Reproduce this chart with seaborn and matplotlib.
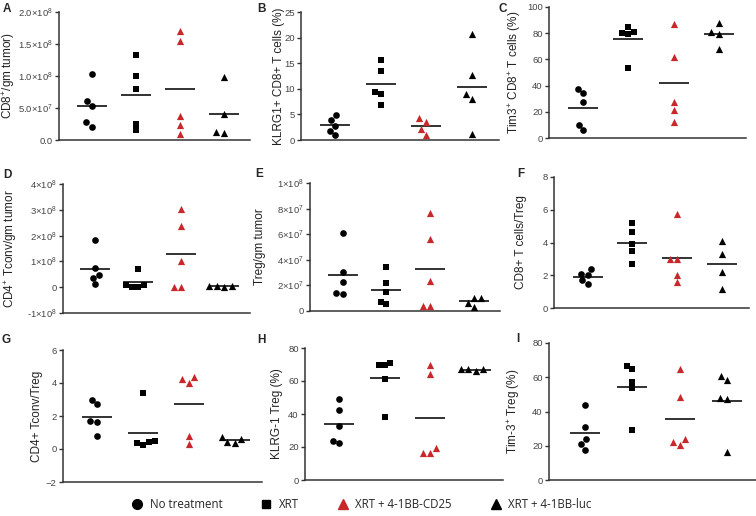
import numpy as np
import pandas as pd
import matplotlib
matplotlib.use("Agg")
import matplotlib.pyplot as plt
from matplotlib.lines import Line2D
import seaborn as sns

groups = ["No treatment", "XRT", "XRT + 4-1BB-CD25", "XRT + 4-1BB-luc"]
markers = ["o", "s", "^", "^"]
colors = ["black", "black", "#c8282a", "black"]
sizes = [4.8, 4.2, 5.2, 5.2]

# values, one list per group
cd8_tumor = [[1.03e8, 0.61e8, 0.53e8, 0.275e8, 0.21e8],
             [1.33e8, 1.0e8, 0.79e8, 0.25e8, 0.156e8],
             [1.70e8, 1.55e8, 0.37e8, 0.24e8, 0.10e8],
             [0.99e8, 0.41e8, 0.114e8, 0.12e8]]
klrg1_cd8 = [[4.8, 3.9, 2.8, 1.8, 0.9],
             [15.7, 13.4, 9.4, 9.0, 6.75],
             [4.2, 3.6, 2.1, 1.0],
             [20.8, 12.7, 9.0, 8.05, 1.2]]
tim3_cd8 = [[37.7, 34.4, 27.3, 10.1, 6.1],
            [84.6, 80.0, 79.7, 81.0, 53.7],
            [87.1, 61.8, 27.1, 21.5, 11.9],
            [87.6, 80.8, 79.7, 68.1]]
cd4_tumor = [[1.82e8, 0.74e8, 0.48e8, 0.35e8, 0.11e8],
             [0.72e8, 0.08e8, 0.02e8, 0.02e8, 0.08e8],
             [3.05e8, 2.38e8, 1.01e8, 0.0, 0.0],
             [0.03e8, 0.02e8, 0.03e8, 0.04e8]]
treg_tumor = [[6.08e7, 3.03e7, 2.25e7, 1.41e7, 1.31e7],
              [3.42e7, 2.17e7, 1.49e7, 0.70e7, 0.55e7],
              [7.65e7, 5.61e7, 2.35e7, 0.37e7, 0.37e7],
              [0.99e7, 1.02e7, 0.65e7, 0.31e7]]
cd8_treg = [[2.37, 2.0, 2.09, 1.68, 1.46],
            [5.2, 4.66, 3.89, 3.46, 2.69],
            [5.71, 3.02, 3.02, 2.0, 1.56],
            [4.11, 3.32, 2.17, 1.17]]
cd4_treg = [[2.94, 2.7, 1.68, 1.66, 0.77],
            [3.37, 0.41, 0.26, 0.39, 0.47],
            [4.22, 4.0, 4.34, 0.79, 0.32],
            [0.61, 0.37, 0.41, 0.73]]
klrg1_treg = [[48.8, 42.5, 32.6, 23.9, 22.3],
              [70.9, 69.4, 69.4, 61.5, 38.1],
              [70.0, 64.2, 19.4, 16.6, 16.6],
              [67.0, 66.2, 67.0, 67.0]]
tim3_treg = [[43.9, 31.1, 23.7, 21.0, 17.7],
             [66.6, 64.9, 57.3, 53.6, 29.1],
             [64.7, 48.5, 23.7, 20.4, 22.0],
             [60.7, 58.4, 47.9, 47.1, 16.3]]

ticks_a = [0, 5e7, 1e8, 1.5e8, 2e8]
labels_a = ["0.0", r"5.0$\times$10$^{7}$", r"1.0$\times$10$^{8}$", r"1.5$\times$10$^{8}$", r"2.0$\times$10$^{8}$"]
ticks_b = [0, 5, 10, 15, 20, 25]
ticks_c = [0, 20, 40, 60, 80, 100]
ticks_d = [-1e8, 0, 1e8, 2e8, 3e8, 4e8]
labels_d = [r"-1$\times$10$^{8}$", "0", r"1$\times$10$^{8}$", r"2$\times$10$^{8}$", r"3$\times$10$^{8}$", r"4$\times$10$^{8}$"]
ticks_e = [0, 2e7, 4e7, 6e7, 8e7, 1e8]
labels_e = ["0", r"2$\times$10$^{7}$", r"4$\times$10$^{7}$", r"6$\times$10$^{7}$", r"8$\times$10$^{7}$", r"1$\times$10$^{8}$"]
ticks_f = [0, 2, 4, 6, 8]
ticks_g = [-2, 0, 2, 4, 6]
ticks_h = [0, 20, 40, 60, 80]
ticks_i = [0, 20, 40, 60, 80]

sns.set_theme(style="ticks")
plt.rcParams["font.family"] = ["Liberation Sans", "DejaVu Sans"]
plt.rcParams["mathtext.fontset"] = "custom"
plt.rcParams["mathtext.rm"] = "Liberation Sans"
plt.rcParams["mathtext.it"] = "Liberation Sans"
plt.rcParams["mathtext.default"] = "regular"

W, H = 756, 516
fig = plt.figure(figsize=(7.56, 5.16), dpi=100)

# letter, data, ylabel, ticks, ticklabels, (left, right, top, bottom) px, label right edge px, letter pos px
panels = [
    ("A", cd8_tumor, "CD8$^{+}$/gm tumor)", ticks_a, labels_a, (59, 250, 12, 140), 17, (3, 12)),
    ("B", klrg1_cd8, "KLRG1+ CD8+ T cells (%)", ticks_b, None, (301, 499, 12, 140), 285, (257, 12)),
    ("C", tim3_cd8, "Tim3$^{+}$ CD8$^{+}$ T cells (%)", ticks_c, None, (549, 746, 7, 138), 523, (499, 12)),
    ("D", cd4_tumor, "CD4$^{+}$ Tconv/gm tumor", ticks_d, labels_d, (63, 250, 184, 313), 19, (3, 178)),
    ("E", treg_tumor, "Treg/gm tumor", ticks_e, labels_e, (310, 500, 183, 311), 266, (255, 177)),
    ("F", cd8_treg, "CD8+ T cells/Treg", ticks_f, None, (554, 749, 177, 308), 527, (517, 177)),
    ("G", cd4_treg, "CD4+ Tconv/Treg", ticks_g, None, (63, 262, 350, 482), 43, (2, 343)),
    ("H", klrg1_treg, "KLRG-1 Treg (%)", ticks_h, None, (305, 503, 348, 480), 283, (257, 343)),
    ("I", tim3_treg, "Tim-3$^{+}$ Treg (%)", ticks_i, None, (549, 756, 343, 480), 522, (516, 342)),
]

for letter, vals, ylabel, ticks, ticklabels, box, lab_x, lpos in panels:
    l, r, t, b = box
    ax = fig.add_axes([l / W, 1 - b / H, (r - l) / W, (b - t) / H])
    df = pd.DataFrame({
        "group": [g for g, v in zip(groups, vals) for _ in v],
        "value": [x for v in vals for x in v],
    })
    for i, g in enumerate(groups):
        sub = df[df["group"] == g]
        sns.swarmplot(data=sub, x="group", y="value", order=groups, ax=ax,
                      marker=markers[i], color=colors[i], size=sizes[i],
                      linewidth=0, warn_thresh=1)
    sns.pointplot(data=df, x="group", y="value", order=groups, ax=ax,
                  estimator="mean", errorbar=None, color="#222222",
                  marker="_", markersize=21, markeredgewidth=1.3,
                  linestyle="none")
    ax.set_xlim(-0.75, 3.6)
    ax.set_ylim(ticks[0], ticks[-1])
    ax.set_yticks(ticks)
    if ticklabels is not None:
        ax.set_yticklabels(ticklabels)
    ax.set_xticks([])
    ax.set_xlabel("")
    ax.set_ylabel(ylabel, fontsize=8.5, color="#222222")
    ax.yaxis.set_label_coords((lab_x - l) / (r - l), 0.5)
    ax.tick_params(axis="y", labelsize=6.8, length=3, width=1, pad=1.5,
                   colors="#333333", labelcolor="#444444")
    for s in ["left", "bottom"]:
        ax.spines[s].set_color("#333333")
        ax.spines[s].set_linewidth(1.1)
    sns.despine(ax=ax)
    fig.text(lpos[0] / W, 1 - lpos[1] / H, letter, fontsize=8.5,
             fontweight="bold", va="baseline", ha="left")

handles = [Line2D([], [], linestyle="none", marker=m, color=c, markersize=ms)
           for m, c, ms in zip(markers, colors, [7, 6, 7, 7])]
fig.legend(handles, groups, loc="center", bbox_to_anchor=(0.478, 1 - 505 / H),
           ncol=4, frameon=False, handlelength=1, handletextpad=0.6,
           columnspacing=3.3, prop={"family": "Open Sans", "size": 8.3})

fig.savefig("out.png", dpi=100)
